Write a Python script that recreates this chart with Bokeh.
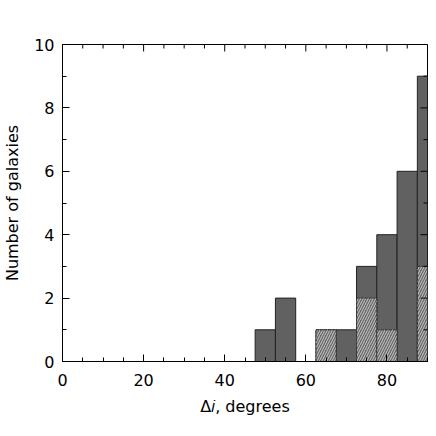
import math
from bokeh.plotting import figure
from bokeh.models import Range1d, FixedTicker
from bokeh.embed import file_html
from bokeh.resources import INLINE

# Data (5-degree bins, labelled by bin centre)
bin_centers = [50, 55, 60, 65, 70, 75, 80, 85, 90]
all_counts = [1, 2, 0, 1, 1, 3, 4, 6, 9]
hatched_counts = [0, 0, 0, 1, 0, 2, 1, 0, 3]
bin_width = 5

x_min, x_max = 0, 90
y_min, y_max = 0, 10
x_major = [0, 20, 40, 60, 80]
x_minor = [v for v in range(0, 91, 5) if v not in x_major]
y_major = [0, 2, 4, 6, 8, 10]
y_minor = [1, 3, 5, 7, 9]

FONT = "DejaVu Sans"

p = figure(width=434, height=431, output_backend="svg", toolbar_location=None,
           x_range=Range1d(x_min, x_max), y_range=Range1d(y_min, y_max),
           min_border_left=61, min_border_right=7, min_border_top=44, min_border_bottom=70,
           x_axis_label="Δ𝑖, degrees", y_axis_label="Number of galaxies")
p.grid.visible = False
p.outline_line_color = "black"
p.outline_line_width = 1
p.background_fill_color = "white"
p.border_fill_color = "white"

p.vbar(x=bin_centers, width=bin_width, top=all_counts, bottom=0,
       fill_color="#616161", line_color="#222222", line_width=1)
hx = [c for c, h in zip(bin_centers, hatched_counts) if h > 0]
hy = [h for h in hatched_counts if h > 0]
p.vbar(x=hx, width=bin_width, top=hy, bottom=0,
       fill_color="#6a6a6a", hatch_pattern="/", hatch_color="#c8c8c8",
       hatch_scale=5, hatch_weight=1, line_color="#333333", line_width=1, line_dash="3 1")

# Mirror ticks on top and right edges (inward)
p.ray(x=x_major, y=[y_max] * len(x_major), length=7, length_units="screen",
      angle=-math.pi / 2, line_color="black", line_width=1)
p.ray(x=x_minor, y=[y_max] * len(x_minor), length=4, length_units="screen",
      angle=-math.pi / 2, line_color="black", line_width=1)
p.ray(x=[x_max] * len(y_major), y=y_major, length=7, length_units="screen",
      angle=math.pi, line_color="black", line_width=1)
p.ray(x=[x_max] * len(y_minor), y=y_minor, length=4, length_units="screen",
      angle=math.pi, line_color="black", line_width=1)

def style(ax):
    ax.major_tick_in = 7
    ax.major_tick_out = 0
    ax.minor_tick_in = 4
    ax.minor_tick_out = 0
    ax.axis_line_color = "black"
    ax.major_tick_line_color = "black"
    ax.minor_tick_line_color = "black"
    ax.major_label_text_font = FONT
    ax.major_label_text_font_size = "16px"
    ax.major_label_text_color = "black"
    ax.axis_label_text_font = FONT
    ax.axis_label_text_font_size = "16px"
    ax.axis_label_text_font_style = "normal"
    ax.axis_label_text_color = "black"

xa = p.xaxis[0]
xa.ticker = FixedTicker(ticks=x_major, minor_ticks=x_minor)
ya = p.yaxis[0]
ya.ticker = FixedTicker(ticks=y_major, minor_ticks=y_minor)
style(xa); style(ya)
xa.major_label_standoff = 12
xa.axis_label_standoff = 8
ya.major_label_standoff = 8
ya.axis_label_standoff = 9

open("out.html", "w").write(file_html(p, INLINE))
